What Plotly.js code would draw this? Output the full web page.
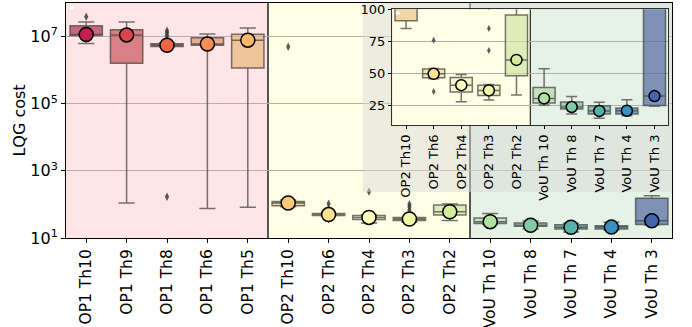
<!DOCTYPE html>
<html><head><meta charset="utf-8">
<script src="https://cdn.plot.ly/plotly-3.0.1.min.js"></script>
<style>html,body{margin:0;padding:0;background:#fff}#chart{width:692px;height:327px}</style>
</head><body><div id="chart"></div>
<script>
const categories = ['OP1 Th10','OP1 Th9','OP1 Th8','OP1 Th6','OP1 Th5','OP2 Th10','OP2 Th6','OP2 Th4','OP2 Th3','OP2 Th2','VoU Th 10','VoU Th 8','VoU Th 7','VoU Th 4','VoU Th 3'];
const lowerWhisker = [6.2e6, 110, 4.9e6, 75, 82, 85, 46, 28, 29.4, 33.3, 25.5, 18.5, 15.2, 17.2, 24.5];
const q1 =           [1.08e7, 1.6e6, 5.1e6, 5.5e6, 1.15e6, 91, 46.7, 35.7, 33, 48.3, 27.1, 22.5, 18.5, 18.5, 25.2];
const medians =      [1.15e7, 1.12e7, 5.5e6, 6.0e6, 7.8e6, 110, 49.8, 41, 36.9, 60.6, 30.7, 24, 20.9, 21.1, 32.5];
const q3 =           [2.1e7, 1.6e7, 6.1e6, 9.3e6, 1.17e7, 122, 53.5, 47, 41, 95.6, 39.2, 27.9, 25, 23.2, 152];
const upperWhisker = [2.7e7, 2.7e7, 6.6e6, 1.2e7, 1.8e7, 135, 54, 49.3, 41.5, 103, 53.7, 32.2, 27.6, 29.7, 182];
const outliers = [[3.9e7], [], [170, 9e6, 1.1e7, 1.3e7, 1.5e7], [], [], [5e6], [36, 76, 105], [240], [68, 85, 102], [], [], [], [], [], []];
const dotColors = ['#c41e4a','#dc434b','#ef6645','#f98e52','#fdb768','#fdc777','#fee28f','#fefcbb','#f0f9a8','#d5ee9b','#b2e0a2','#7fcaa5','#54b4aa','#3791c0','#4465ae'];
const yTickVals = [10, 1e3, 1e5, 1e7];
const yTickText = ['10<sup>1</sup>','10<sup>3</sup>','10<sup>5</sup>','10<sup>7</sup>'];
const insetTickVals = [25, 50, 75, 100];
const insetStart = 5;

function hexToRgb(h){return [1,3,5].map(i=>parseInt(h.substr(i,2),16)/255);}
function desat(hex, f, a){
  let [r,g,b]=hexToRgb(hex);
  const mx=Math.max(r,g,b), mn=Math.min(r,g,b), l=(mx+mn)/2;
  let s=0, h=0;
  if(mx!==mn){
    const d=mx-mn; s = l>0.5 ? d/(2-mx-mn) : d/(mx+mn);
    if(mx===r) h=((g-b)/d+(g<b?6:0)); else if(mx===g) h=(b-r)/d+2; else h=(r-g)/d+4; h/=6;
  }
  s*=f;
  function hue2rgb(p,q,t){if(t<0)t+=1;if(t>1)t-=1;if(t<1/6)return p+(q-p)*6*t;if(t<1/2)return q;if(t<2/3)return p+(q-p)*(2/3-t)*6;return p;}
  let R,G,B;
  if(s===0){R=G=B=l;}else{const q=l<0.5?l*(1+s):l+s-l*s, p=2*l-q; R=hue2rgb(p,q,h+1/3);G=hue2rgb(p,q,h);B=hue2rgb(p,q,h-1/3);}
  return 'rgba('+Math.round(R*255)+','+Math.round(G*255)+','+Math.round(B*255)+','+a+')';
}

const FONT = 'DejaVu Sans, sans-serif';
const traces = [];
function addBoxes(xa, ya, start){
  for(let i=start;i<categories.length;i++){
    traces.push({type:'box', xaxis:xa, yaxis:ya, x:[categories[i]], q1:[q1[i]], median:[medians[i]], q3:[q3[i]],
      lowerfence:[lowerWhisker[i]], upperfence:[upperWhisker[i]], width:0.8, whiskerwidth:0.5,
      fillcolor:desat(dotColors[i],0.75,0.7), line:{color:'rgba(70,70,70,0.75)', width:1.5},
      hoverinfo:'skip', showlegend:false});
  }
  const ox=[], oy=[];
  for(let i=start;i<categories.length;i++){ outliers[i].forEach(v=>{ox.push(categories[i]); oy.push(v);}); }
  traces.push({type:'scatter', mode:'markers', xaxis:xa, yaxis:ya, x:ox, y:oy,
    marker:{symbol:'diamond-tall', size: start===0?6:5, color:'rgba(60,60,60,0.85)'}, hoverinfo:'skip', showlegend:false});
  traces.push({type:'scatter', mode:'markers', xaxis:xa, yaxis:ya, x:categories.slice(start), y:medians.slice(start),
    marker:{size: start===0?14:11, color:dotColors.slice(start), line:{color:'#000', width:1.5}}, hoverinfo:'skip', showlegend:false});
}
addBoxes('x','y',0);
// overlay subplot (semi-transparent inset figure background)
traces.push({type:'scatter', mode:'markers', xaxis:'x2', yaxis:'y2', x:[-5], y:[-5], marker:{opacity:0}, hoverinfo:'skip', showlegend:false});
addBoxes('x3','y3',insetStart);

const pink='#ffe5e5', yellow='#ffffe5', green='#e5f2e5';
const shapes = [
  {type:'rect', xref:'x', yref:'paper', x0:-0.5, x1:4.5, y0:0, y1:1, fillcolor:pink, line:{width:0}, layer:'below'},
  {type:'rect', xref:'x', yref:'paper', x0:4.5, x1:9.5, y0:0, y1:1, fillcolor:yellow, line:{width:0}, layer:'below'},
  {type:'rect', xref:'x', yref:'paper', x0:9.5, x1:14.5, y0:0, y1:1, fillcolor:green, line:{width:0}, layer:'below'},
  {type:'line', xref:'x', yref:'paper', x0:4.5, x1:4.5, y0:0, y1:1, line:{color:'#000', width:1.3}, layer:'below'},
  {type:'line', xref:'x', yref:'paper', x0:9.5, x1:9.5, y0:0, y1:1, line:{color:'#000', width:1.3}, layer:'below'},
  {type:'rect', xref:'x3', yref:'y3', x0:-0.5, x1:4.5, y0:10, y1:100, fillcolor:yellow, line:{width:0}, layer:'below'},
  {type:'rect', xref:'x3', yref:'y3', x0:4.5, x1:9.5, y0:10, y1:100, fillcolor:green, line:{width:0}, layer:'below'},
  {type:'line', xref:'x3', yref:'y3', x0:4.5, x1:4.5, y0:10, y1:100, line:{color:'#000', width:1}, layer:'below'},
  {type:'rect', xref:'paper', yref:'paper', x0:0.0055, x1:0.0137, y0:0.968, y1:0.989, fillcolor:'#fff', line:{color:'#ddd', width:0.6}, layer:'above'},
  {type:'rect', xref:'paper', yref:'paper', x0:0.5445, x1:0.551, y0:0.950, y1:0.964, fillcolor:'#fff', line:{color:'#ddd', width:0.6}, layer:'above'}
];

const layout = {
  width:692, height:327, margin:{l:66, r:20, t:3, b:89, pad:0},
  paper_bgcolor:'#fff', plot_bgcolor:'rgba(218,218,218,0.5)',
  showlegend:false, font:{family:FONT, color:'#000'},
  xaxis:{type:'category', categoryorder:'array', categoryarray:categories, range:[-0.5,14.5], domain:[0,1], anchor:'y',
    showline:true, mirror:true, linecolor:'#000', linewidth:1, ticks:'outside', ticklen:4, tickcolor:'#000',
    tickangle:-90, tickfont:{family:FONT, size:15.5, color:'#000'}, showgrid:false, zeroline:false, fixedrange:true},
  yaxis:{type:'log', range:[1,8], domain:[0,1], anchor:'x', tickmode:'array', tickvals:yTickVals, ticktext:yTickText,
    showline:true, mirror:true, linecolor:'#000', linewidth:1, ticks:'outside', ticklen:4, tickcolor:'#000',
    showgrid:true, gridcolor:'#b0b0b0', gridwidth:1, zeroline:false, tickfont:{family:FONT, size:16, color:'#000'},
    title:{text:'LQG cost', font:{family:FONT, size:16, color:'#000'}, standoff:0}, fixedrange:true},
  xaxis2:{domain:[0.490,1], anchor:'y2', visible:false, range:[0,1], fixedrange:true},
  yaxis2:{domain:[0.1957,1], anchor:'x2', visible:false, range:[0,1], fixedrange:true},
  xaxis3:{type:'category', categoryorder:'array', categoryarray:categories.slice(insetStart), range:[-0.5,9.5],
    domain:[0.5384,0.9939], anchor:'y3', showline:true, mirror:true, linecolor:'#000', linewidth:0.8,
    ticks:'outside', ticklen:3.5, tickcolor:'#000', tickangle:-90, tickfont:{family:FONT, size:13, color:'#000'},
    showgrid:false, zeroline:false, fixedrange:true},
  yaxis3:{range:[10,100], domain:[0.4809,0.9732], anchor:'x3', tickmode:'array', tickvals:insetTickVals,
    showline:true, mirror:true, linecolor:'#000', linewidth:0.8, ticks:'outside', ticklen:3.5, tickcolor:'#000',
    showgrid:true, gridcolor:'#b0b0b0', gridwidth:1, zeroline:false, tickfont:{family:FONT, size:13, color:'#000'}, fixedrange:true},
  shapes: shapes
};
Plotly.newPlot('chart', traces, layout, {displayModeBar:false, staticPlot:true});
</script></body></html>
